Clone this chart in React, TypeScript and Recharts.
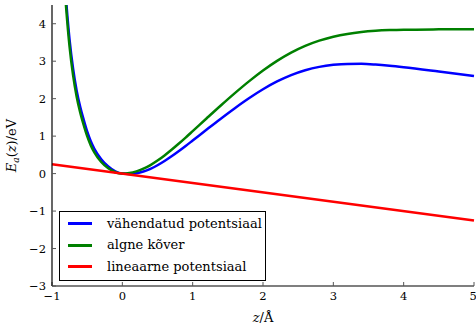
import React from "react";

import { Legend, Line, LineChart, XAxis, YAxis } from "recharts";

const zValues = [
  -0.85, -0.8, -0.75, -0.7, -0.65, -0.6, -0.55, -0.5, -0.45, -0.4, -0.3, -0.2, -0.1, 0, 0.1, 0.2, 0.3, 0.4, 0.5,
  0.6, 0.7, 0.8, 0.9, 1.0, 1.2, 1.4, 1.6, 1.8, 2.0, 2.2, 2.4, 2.6, 2.8, 3.0, 3.2, 3.4, 3.6, 3.8, 4.0, 4.5, 5,
];
const reducedValues = [
  6.01, 4.65, 3.57, 2.8, 2.22, 1.79, 1.44, 1.125, 0.87, 0.67, 0.385, 0.19, 0.06, 0, -0.01, 0.009, 0.055, 0.128, 0.223,
  0.336, 0.461, 0.596, 0.737, 0.883, 1.177, 1.467, 1.747, 2.011, 2.251, 2.459, 2.629, 2.759, 2.849, 2.903, 2.928,
  2.929, 2.911, 2.88, 2.841, 2.725, 2.603,
];
const originalValues = [
  5.8, 4.45, 3.38, 2.62, 2.06, 1.64, 1.3, 1.0, 0.76, 0.57, 0.31, 0.14, 0.035, 0, 0.015, 0.059, 0.13, 0.228, 0.348,
  0.486, 0.636, 0.796, 0.962, 1.133, 1.477, 1.817, 2.147, 2.461, 2.751, 3.009, 3.229, 3.409, 3.549, 3.653, 3.728,
  3.779, 3.811, 3.83, 3.841, 3.85, 3.853,
];
const linearZ = [-1, 5];
const linearValues = [0.25, -1.25];

const xTicks = [-1, 0, 1, 2, 3, 4, 5];
const yTicks = [-3, -2, -1, 0, 1, 2, 3, 4];

const seriesNames = ["vähendatud potentsiaal", "algne kõver", "lineaarne potentsiaal"];
const seriesColors = ["#0000ff", "#008000", "#ff0000"];

const curveData = zValues.map((z, i) => ({ z, reduced: reducedValues[i], original: originalValues[i] }));
const linearData = linearZ.map((z, i) => ({ z, linear: linearValues[i] }));

const FONT = "DejaVu Serif";

const fmt = (v: number) => (v < 0 ? `\u2212${-v}` : `${v}`);

const YLabel = ({ viewBox }: any) => {
  const cx = viewBox.x + 16;
  const cy = viewBox.y + viewBox.height / 2;
  return (
    <text
      x={cx}
      y={cy}
      textAnchor="middle"
      transform={`rotate(-90 ${cx} ${cy})`}
      fontFamily={FONT}
      fontSize={13}
      fill="#000"
    >
      <tspan fontStyle="italic">E</tspan>
      <tspan fontStyle="italic" fontSize={9} dy={3}>
        a
      </tspan>
      <tspan dy={-3}>(</tspan>
      <tspan fontStyle="italic">z</tspan>
      <tspan>)/eV</tspan>
    </text>
  );
};

const XLabel = ({ viewBox }: any) => {
  const cx = viewBox.x + viewBox.width / 2;
  return (
    <text x={cx} y={viewBox.y + 36} textAnchor="middle" fontFamily={FONT} fontSize={13} fill="#000">
      <tspan fontStyle="italic">z</tspan>
      <tspan>/Å</tspan>
    </text>
  );
};

const LegendBox = () => (
  <div
    style={{
      border: "1.2px solid #000",
      background: "#fff",
      width: 205,
      height: 67,
      paddingTop: 1,
      fontFamily: FONT,
      fontSize: 13,
    }}
  >
    {seriesNames.map((name, i) => (
      <div key={name} style={{ display: "flex", alignItems: "center", height: 21.5 }}>
        <div style={{ marginLeft: 8, width: 24, height: 3, background: seriesColors[i] }} />
        <span style={{ marginLeft: 15, lineHeight: "16px" }}>{name}</span>
      </div>
    ))}
  </div>
);

const App = () => {
  const tickStyle = { fontFamily: FONT, fontSize: 11.5, fill: "#000" };
  return (
    <div style={{ position: "absolute", left: 0, top: 0, background: "#fff" }}>
      <LineChart width={476} height={329} margin={{ top: 5, right: 2, bottom: 0, left: 0 }}>
        <XAxis
          xAxisId="main"
          dataKey="z"
          type="number"
          domain={[-1, 5]}
          ticks={xTicks}
          tickFormatter={fmt}
          height={43}
          tickSize={-4}
          tickMargin={10}
          tick={tickStyle}
          axisLine={{ stroke: "#000", strokeWidth: 1.2 }}
          tickLine={{ stroke: "#555" }}
          label={<XLabel />}
        />
        <XAxis
          xAxisId="top"
          orientation="top"
          dataKey="z"
          type="number"
          domain={[-1, 5]}
          ticks={xTicks}
          height={0}
          tickSize={-4}
          tick={false}
          axisLine={{ stroke: "#000", strokeWidth: 1.2 }}
          tickLine={{ stroke: "#555" }}
        />
        <YAxis
          yAxisId="main"
          type="number"
          domain={[-3, 4.5]}
          ticks={yTicks}
          allowDataOverflow
          tickFormatter={fmt}
          width={52}
          tickSize={-4}
          tickMargin={10}
          tick={tickStyle}
          axisLine={{ stroke: "#000", strokeWidth: 1.2 }}
          tickLine={{ stroke: "#555" }}
          label={<YLabel />}
        />
        <YAxis
          yAxisId="right"
          orientation="right"
          type="number"
          domain={[-3, 4.5]}
          ticks={yTicks}
          allowDataOverflow
          width={0}
          tickSize={-4}
          tick={false}
          axisLine={{ stroke: "#000", strokeWidth: 1.2 }}
          tickLine={{ stroke: "#555" }}
        />
        <Line
          xAxisId="main"
          yAxisId="main"
          data={curveData}
          dataKey="reduced"
          name={seriesNames[0]}
          stroke={seriesColors[0]}
          strokeWidth={2.5}
          dot={false}
          type="monotone"
          isAnimationActive={false}
        />
        <Line
          xAxisId="main"
          yAxisId="main"
          data={curveData}
          dataKey="original"
          name={seriesNames[1]}
          stroke={seriesColors[1]}
          strokeWidth={2.5}
          dot={false}
          type="monotone"
          isAnimationActive={false}
        />
        <Line
          xAxisId="main"
          yAxisId="main"
          data={linearData}
          dataKey="linear"
          name={seriesNames[2]}
          stroke={seriesColors[2]}
          strokeWidth={2.5}
          dot={false}
          type="linear"
          isAnimationActive={false}
        />
        <Legend
          layout="vertical"
          align="center"
          verticalAlign="middle"
          content={<LegendBox />}
          wrapperStyle={{ left: 59, top: 211, width: "auto", height: "auto" }}
        />
      </LineChart>
    </div>
  );
};

export default App;
